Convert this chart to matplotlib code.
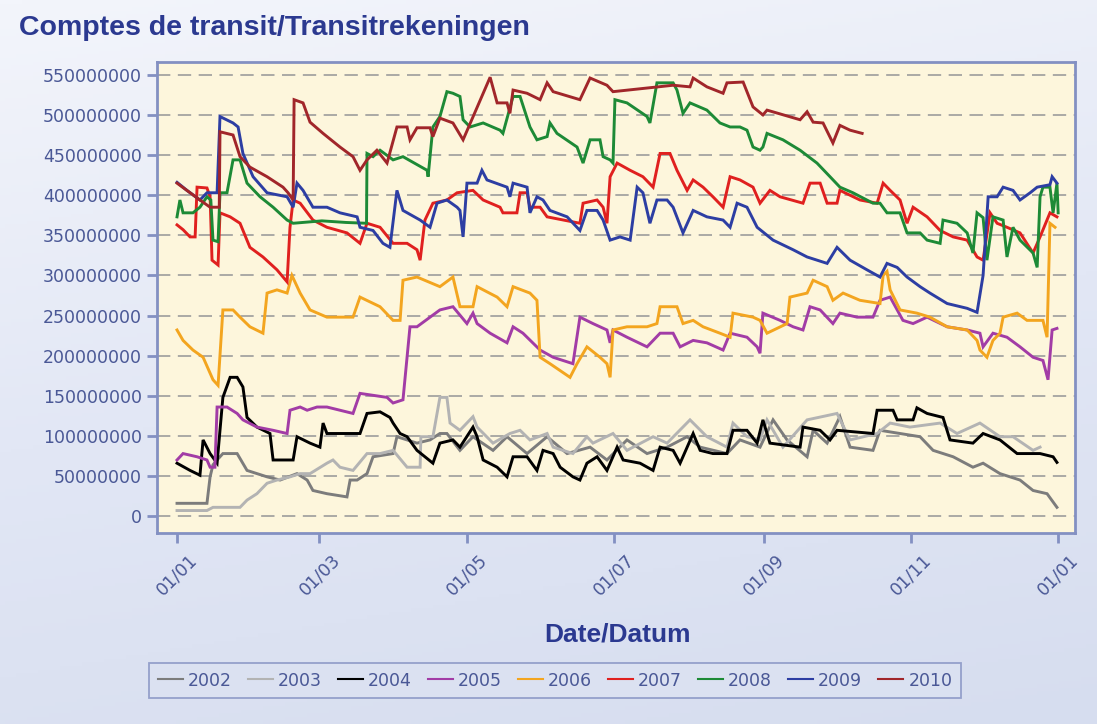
import numpy as np
import matplotlib.pyplot as plt
from matplotlib.colors import LinearSegmentedColormap

# Data: x = day of year (0 = 01/01), y = amount in millions
d2002 = [0, 12.4, 13.7, 14.9, 16.6, 19, 24.9, 29, 37.3, 42.7, 49.7, 53.9, 56.3, 62.1, 70.4, 71.7, 74.6, 78.7, 81.2, 89.5,
         91.1, 95.3, 99.4, 104.8, 108.9, 111.8, 117.2, 122.6, 130.9, 136.7, 145, 153.3, 161.6, 171.1, 178.1, 186.4, 194.7,
         203, 211.3, 216.7, 227.8, 233.2, 241.5, 246.9, 252.7, 261, 263.5, 269.3, 274.6, 278.8, 288.3, 291.2, 299.5,
         307.8, 313.2, 321.5, 329.7, 333.9, 340.9, 349.2, 354.6, 360.4, 364.5]
v2002 = [16, 16, 49, 64, 70, 78, 78, 57, 49, 45, 53, 45, 32, 28, 24, 45, 45, 53, 74, 78,
         99, 95, 91, 95, 103, 103, 82, 99, 82, 99, 78, 99, 78, 86, 70, 95, 78,
         86, 99, 86, 78, 95, 86, 120, 95, 74, 107, 91, 124, 86, 82, 107, 103,
         99, 82, 74, 61, 66, 53, 45, 32, 28, 11]

d2003 = [0, 12.4, 14.9, 26.1, 29, 33.1, 37.3, 41.4, 46.8, 51, 55.1, 62.1, 64.6, 67.5, 72.9, 78.7, 84.1, 89.5, 95.3,
         100.7, 101, 106, 108.9, 111.8, 113.1, 117.2, 122.6, 124.3, 130.9, 137.9, 142.1, 146.2, 153.3, 155.8, 164,
         169.8, 172.3, 180.6, 186.4, 197.2, 203, 212.5, 219.5, 227.8, 230.3, 236.1, 241.5, 244.4, 251, 261, 273.4,
         278.8, 290, 295.4, 303.6, 316.1, 323.1, 332.6, 340.9, 346.3, 354.6, 357.5]
v2003 = [7, 7, 11, 11, 20, 28, 41, 45, 49, 53, 53, 66, 70, 61, 57, 78, 78, 82, 61,
         61, 99, 99, 148, 148, 116, 107, 124, 111, 91, 103, 107, 95, 103, 86, 78,
         99, 91, 103, 82, 99, 91, 120, 99, 86, 116, 99, 95, 120, 86, 120, 128,
         95, 103, 116, 111, 116, 103, 116, 99, 99, 82, 86]

d2004 = [0, 5.4, 9.5, 10.8, 13.7, 16.6, 19, 22, 24.9, 27.3, 29, 33.1, 38.5, 39.8, 48.1, 49.7, 55.1, 59.2, 60.5, 62.1,
         75.8, 78.7, 84.1, 88.2, 89.5, 92.4, 95.3, 99.4, 106, 108.9, 114.3, 117.2, 122.6, 124.3, 126.8, 132.6, 136.7,
         139.2, 145, 149.1, 151.6, 155.8, 158.7, 164, 166.9, 169.8, 174, 178.1, 182.3, 184.8, 191.8, 197.2, 200.1,
         205.5, 208.4, 213.8, 216.7, 222, 227.8, 230.3, 236.1, 240.3, 242.7, 245.6, 258.1, 259.3, 266.4, 270.5, 273.4,
         288.3, 290, 296.6, 298.3, 304.9, 306.5, 310.7, 317.3, 320.2, 329.7, 333.9, 340.9, 348, 357.5, 362.9, 364.5]
v2004 = [66, 57, 51, 95, 78, 66, 148, 173, 173, 161, 123, 111, 103, 70, 70, 99, 91, 86, 116, 103,
         103, 128, 130, 123, 116, 103, 99, 82, 66, 91, 95, 86, 111, 99, 70, 61, 49,
         74, 74, 57, 82, 78, 61, 49, 45, 66, 74, 57, 86, 70, 66, 57, 86,
         82, 66, 103, 82, 78, 78, 107, 107, 91, 120, 91, 86, 111, 107, 95, 107,
         103, 132, 132, 120, 120, 135, 128, 123, 95, 91, 103, 95, 78, 78, 74, 67]

d2005 = [0, 2.5, 8.3, 12.4, 13.7, 15.7, 16.6, 20.7, 24.9, 27.3, 33.1, 39.8, 45.6, 46.8, 51, 53.9, 58, 62.1, 72.9,
         75.8, 87, 89.5, 93.6, 96.5, 99.4, 108.9, 114.3, 120.1, 122.6, 124.3, 129.7, 136.7, 139.2, 143.3, 150.4,
         155.8, 164, 166.9, 172.3, 178.1, 179.4, 180.6, 186.4, 194.7, 200.1, 205.5, 208.4, 213.8, 219.5, 226.2,
         229.1, 236.1, 240.3, 241.5, 242.7, 249.8, 255.2, 259.3, 262.2, 266.4, 271.7, 274.6, 281.7, 288.3, 291.2,
         295.4, 300.7, 304.9, 310.7, 319, 327.3, 332.6, 333.9, 338, 343.8, 349.2, 354.6, 358.7, 360.8, 362.5, 364.5]
v2005 = [70, 78, 74, 70, 61, 61, 136, 136, 128, 120, 111, 107, 103, 132, 136, 132, 136, 136, 128,
         153, 148, 141, 145, 236, 236, 257, 261, 240, 253, 240, 228, 216, 236, 228, 207,
         198, 190, 248, 240, 232, 216, 232, 223, 211, 228, 228, 211, 219, 216, 207,
         228, 223, 211, 203, 253, 244, 236, 232, 261, 257, 240, 253, 248, 248, 269,
         273, 244, 240, 248, 236, 232, 228, 211, 228, 223, 211, 198, 194, 170, 232, 234]

d2006 = [0, 2.5, 6.6, 10.8, 14.9, 17, 19, 23.2, 26.1, 30.2, 35.6, 37.3, 41.4, 45.6, 47.6, 51, 55.1, 62.1, 72.9, 75.8,
         84.1, 89.5, 92.4, 93.6, 99.4, 108.9, 114.3, 117.2, 122.6, 124.3, 132.6, 136.7, 139.2, 146.2, 149.1, 150.4,
         154.5, 162.8, 165.7, 169.8, 175.2, 178.1, 179.4, 180.6, 186.4, 194.7, 198.8, 200.1, 207.1, 209.6, 213.8,
         217.9, 224.9, 229.1, 230.3, 238.6, 241.5, 244.4, 252.7, 253.9, 261, 263.5, 269.3, 271.7, 275.9, 282.9, 291.2,
         292.5, 294.1, 295.4, 299.5, 306.5, 311.9, 319, 327.3, 331.4, 332.6, 335.5, 338, 340.9, 342.2, 348, 352.1,
         358.7, 360.4, 361.6, 363.7]
v2006 = [232, 219, 207, 198, 170, 163, 257, 257, 248, 236, 228, 278, 282, 278, 300, 278, 257, 248, 248, 273,
         261, 244, 244, 294, 298, 286, 298, 261, 261, 286, 273, 261, 286, 278, 269, 198,
         190, 173, 190, 211, 198, 190, 173, 232, 236, 236, 240, 261, 261, 240, 244,
         236, 228, 223, 253, 248, 244, 228, 240, 273, 278, 294, 286, 269, 278, 269, 265,
         300, 305, 282, 257, 253, 248, 236, 232, 219, 207, 198, 219, 228, 248, 253, 244,
         244, 223, 365, 360]

d2007 = [0, 2.5, 5.4, 7.5, 8.3, 12.4, 13.7, 14.5, 17, 17.8, 22, 26.1, 30.2, 35.6, 41.4, 45.6, 46.8, 48.1, 51, 56.3,
         62.1, 70.4, 75.8, 78.7, 84.1, 89.5, 95.3, 99.4, 100.7, 102.7, 106, 111.8, 116, 122.6, 126.8, 133.8, 135,
         140.8, 142.1, 145, 146.2, 150.4, 153.3, 166.9, 168.2, 174, 176.5, 178.1, 179.4, 182.3, 187.7, 193, 197.2,
         200.1, 204.2, 207.1, 211.3, 213.8, 217.9, 222, 226.2, 229.1, 233.2, 238.6, 241.5, 245.6, 249.8, 259.3, 262.2,
         266.4, 269.3, 273.4, 274.6, 282.9, 290, 292.5, 295.4, 299.5, 302.4, 304.9, 310.7, 316.1, 321.5, 327.3, 331.4,
         333.9, 336.8, 339.7, 343.8, 349.2, 354.6, 357.5, 361.6, 364.5]
v2007 = [363, 357, 348, 348, 410, 409, 398, 319, 313, 378, 373, 365, 335, 323, 307, 292, 360, 394, 390, 369,
         360, 353, 340, 365, 360, 340, 340, 332, 319, 369, 390, 394, 403, 406, 394, 385, 378,
         378, 403, 403, 385, 385, 373, 365, 390, 394, 385, 365, 423, 440, 431, 423, 410,
         452, 452, 431, 406, 419, 410, 398, 385, 423, 419, 410, 390, 406, 398, 390, 415,
         415, 390, 390, 406, 394, 390, 415, 406, 394, 365, 385, 373, 356, 348, 344, 323,
         319, 378, 365, 360, 353, 328, 348, 378, 373]

d2008 = [0, 1.2, 2.5, 6.6, 9.5, 12.4, 14, 14.9, 17, 17.8, 20.7, 23.2, 26.1, 29, 34.4, 39.8, 45.6, 48.1, 60, 70, 78.5,
         78.7, 81.2, 84.1, 89.5, 93.6, 103.6, 104, 106, 108.9, 111.8, 114.3, 117.2, 118.5, 121.4, 126.8, 133.8, 135,
         139.2, 142.1, 146.2, 149.1, 153.3, 154.5, 157.4, 165.7, 168.2, 171.1, 175.2, 176.5, 179.4, 180.6, 181.4,
         186.4, 194.7, 195.9, 198.8, 205.5, 207.1, 209.6, 212.5, 219.5, 224.9, 229.1, 233.2, 236.1, 238.6, 241.5,
         242.7, 244.4, 251, 258.1, 265.1, 270.5, 274.6, 280, 288.3, 291.2, 294.1, 299.5, 302.4, 307.8, 310.7, 316.1,
         317.3, 323.1, 327.3, 329.7, 331.4, 333.9, 335.5, 338, 342.2, 343.8, 346.3, 349.2, 354.6, 356.3, 357.5, 358.7,
         361.6, 362.9, 364.5, 365]
v2008 = [373, 394, 378, 378, 385, 398, 394, 344, 342, 403, 403, 444, 444, 415, 398, 385, 369, 365, 368, 366, 365,
         452, 448, 456, 444, 448, 431, 423, 485, 498, 529, 527, 523, 494, 485, 490, 481, 477,
         523, 523, 485, 469, 473, 490, 477, 460, 440, 469, 469, 448, 444, 440, 519,
         515, 498, 490, 540, 540, 531, 502, 515, 506, 490, 485, 485, 481, 460, 456,
         460, 477, 469, 456, 440, 423, 410, 403, 390, 390, 378, 378, 353, 353, 344, 340,
         369, 365, 353, 328, 378, 372, 319, 373, 369, 323, 360, 344, 328, 310, 398, 410,
         410, 378, 415, 378]

d2009 = [0, 4.1, 9.5, 12.4, 16.6, 17.8, 23.2, 25.3, 27.3, 31.5, 37.3, 45.6, 48.1, 49.7, 52.2, 56.3, 62.1, 67.5, 74.6,
         75.8, 81.2, 85.3, 88.2, 91.1, 93.6, 100.7, 104.8, 107.7, 111.8, 116, 117.2, 118.5, 120.1, 124.3, 126.3, 128.4,
         136.7, 137.9, 139.2, 145, 146.2, 149.1, 151.6, 154.5, 161.6, 166.9, 169.8, 174, 176.5, 179.4, 183.5, 187.7,
         190.6, 193, 195.9, 198.8, 203, 205.5, 209.6, 213.8, 219.5, 226.2, 229.1, 232, 236.1, 240.3, 246.9, 255.2,
         261, 269.3, 273.4, 278.8, 285.8, 291.2, 294.1, 298.3, 302.4, 307.8, 311.9, 319, 327.3, 331.4, 333.9, 336,
         339.7, 342.2, 346.3, 349.2, 353.4, 356.3, 361.6, 362.5, 364.5]
v2009 = [416, 406, 394, 403, 403, 498, 490, 485, 452, 423, 403, 398, 385, 415, 406, 385, 385, 378, 373,
         360, 356, 340, 335, 406, 381, 369, 360, 390, 394, 385, 381, 348, 415, 415, 431, 419,
         410, 398, 415, 410, 378, 398, 394, 381, 373, 356, 381, 381, 369, 344, 348, 344,
         410, 403, 365, 394, 394, 385, 353, 381, 373, 369, 360, 390, 385, 360, 344, 332,
         323, 315, 335, 319, 307, 298, 315, 310, 298, 286, 278, 265, 259, 254, 300, 398,
         398, 410, 406, 394, 403, 410, 413, 423, 415]

d2010 = [0, 9.5, 13.7, 17.5, 17.8, 23.2, 26.1, 30.2, 37.3, 43.9, 46, 48.1, 48.5, 52.2, 55.1, 60.5, 67.5, 72.9, 75.8,
         78.7, 82.8, 87, 91.1, 95.3, 96.5, 99.4, 104.8, 106, 108.9, 114.3, 118.5, 129.7, 132.6, 136.7, 137.9, 139.2,
         145, 150.4, 153.3, 155.8, 166.9, 171.1, 178.1, 180.6, 205.5, 212.5, 213.8, 219.5, 226.2, 227.8, 234.5,
         238.6, 242.7, 244.4, 258.1, 261, 263.5, 267.6, 271.7, 274.6, 278.8, 283.8]
v2010 = [415, 394, 385, 385, 479, 475, 448, 435, 423, 410, 403, 394, 519, 515, 491, 477, 460, 448, 431,
         444, 456, 440, 485, 485, 469, 484, 484, 473, 496, 490, 469, 547, 515, 515, 502, 531,
         527, 519, 540, 529, 519, 546, 537, 529, 537, 535, 546, 535, 527, 540, 541,
         510, 500, 506, 494, 504, 491, 490, 465, 487, 481, 477]

years = ['2002', '2003', '2004', '2005', '2006', '2007', '2008', '2009', '2010']
colors = ['#7c7c7c', '#b3b3b3', '#000000', '#a23ca6', '#f3a51f', '#e0201f', '#1d8a36', '#2d3ea3', '#a1262a']
series_days = [d2002, d2003, d2004, d2005, d2006, d2007, d2008, d2009, d2010]
series_vals = [v2002, v2003, v2004, v2005, v2006, v2007, v2008, v2009, v2010]

tick_days = [0, 59, 120, 181, 243, 304, 365]
tick_labels = ['01/01', '01/03', '01/05', '01/07', '01/09', '01/11', '01/01']

narrow = ['Liberation Sans Narrow', 'Liberation Sans', 'DejaVu Sans']
navy = '#2b3990'
label_col = '#4a5896'
frame_col = '#8390c2'

fig = plt.figure(figsize=(10.97, 7.24), dpi=100)

# background gradient
bg = fig.add_axes([0, 0, 1, 1], zorder=-10)
gx, gy = np.meshgrid(np.linspace(0, 1, 200), np.linspace(0, 1, 200))
grad = 0.8 * gy + 0.2 * gx
cmap = LinearSegmentedColormap.from_list('bg', ['#f3f5fb', '#e2e7f5', '#d6ddef'])
bg.imshow(grad, cmap=cmap, aspect='auto', extent=[0, 1, 0, 1], origin='upper')
bg.axis('off')

ax = fig.add_axes([0.1431, 0.2638, 0.8369, 0.6506])
ax.set_facecolor('#fdf6dc')

for yr, c, d, v in zip(years, colors, series_days, series_vals):
    ax.plot(d, np.array(v) * 1e6, color=c, lw=2.1, label=yr, solid_joinstyle='miter')

ax.set_xlim(-8.3, 372)
ax.set_ylim(-21e6, 566e6)

yt = np.arange(0, 550e6 + 1, 50e6)
ax.set_yticks(yt)
ax.set_yticklabels([str(int(t)) for t in yt], fontsize=12.5, color=label_col)
ax.set_xticks(tick_days)
ax.set_xticklabels(tick_labels, rotation=45, ha='center', fontsize=12.5, color=label_col)

ax.grid(axis='y', color='#9c9c9c', lw=1.2, linestyle=(0, (8, 4.5)))
ax.grid(axis='x', visible=False)
ax.set_axisbelow(True)

for s in ax.spines.values():
    s.set_color(frame_col)
    s.set_linewidth(2)
ax.tick_params(axis='both', colors=frame_col, width=2, length=7, labelcolor=label_col)
ax.tick_params(axis='y', pad=4)
ax.tick_params(axis='x', pad=6)

fig.text(0.017, 0.962, 'Comptes de transit/Transitrekeningen', fontsize=20.5, fontweight='bold',
         color=navy, family=narrow, ha='left', va='center')
fig.text(0.5625, 0.124, 'Date/Datum', fontsize=19, fontweight='bold', color=navy,
         family=narrow, ha='center', va='center')

leg = fig.legend(loc='center', bbox_to_anchor=(0.506, 0.06), ncol=9, frameon=True, fontsize=12.5,
                 handlelength=1.45, handletextpad=0.3, columnspacing=0.9, borderpad=0.5,
                 fancybox=False, labelcolor=label_col)
leg.get_frame().set_edgecolor(frame_col)
leg.get_frame().set_facecolor('#dce2f2')
leg.get_frame().set_linewidth(1.3)
for line in leg.get_lines():
    line.set_linewidth(1.5)

fig.savefig('out.png', dpi=100)
